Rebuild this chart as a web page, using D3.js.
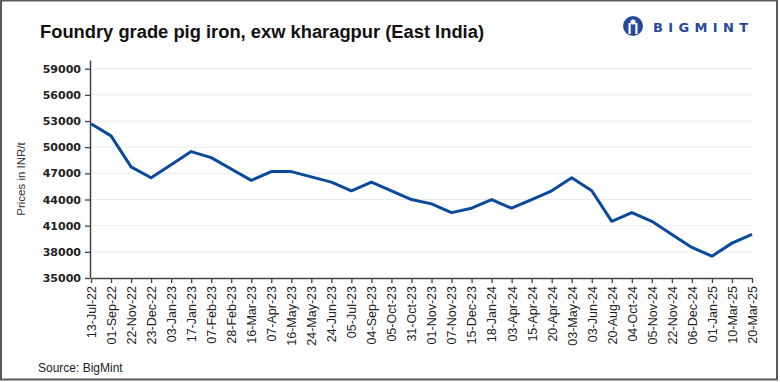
<!DOCTYPE html>
<html>
<head>
<meta charset="utf-8">
<script src="https://cdn.jsdelivr.net/npm/d3@7"></script>
<style>
  body { margin: 0; background: #fff; }
  svg { display: block; }
</style>
</head>
<body>
<svg id="chart" width="780" height="382"></svg>
<script>
// data
var dates = ["13-Jul-22","01-Sep-22","22-Nov-22","23-Dec-22","03-Jan-23","17-Jan-23","07-Feb-23","28-Feb-23",
  "16-Mar-23","07-Apr-23","16-May-23","24-May-23","24-Jun-23","05-Jul-23","04-Sep-23","05-Oct-23",
  "31-Oct-23","01-Nov-23","07-Nov-23","15-Dec-23","18-Jan-24","03-Apr-24","15-Apr-24","20-Apr-24",
  "03-May-24","03-Jun-24","20-Aug-24","04-Oct-24","05-Nov-24","22-Nov-24","06-Dec-24","01-Jan-25",
  "10-Mar-25","20-Mar-25"]
var prices = [52700,51300,47750,46500,48000,49500,48800,47500,
  46200,47200,47200,46600,46000,45000,46000,45000,
  44000,43500,42500,43000,44000,43000,44000,45000,
  46500,45000,41500,42500,41500,40000,38500,37500,
  39000,40000]
var yTicks = [35000,38000,41000,44000,47000,50000,53000,56000,59000]

var svg = d3.select("#chart")

// outer frame
svg.append("rect")
  .attr("x", 1).attr("y", 0.5)
  .attr("width", 776).attr("height", 379)
  .attr("fill", "none").attr("stroke", "#5a5a5a").attr("stroke-width", 2)

// title
svg.append("text")
  .attr("x", 40).attr("y", 38)
  .attr("font-family", "Liberation Sans, Arial, sans-serif")
  .attr("font-weight", "bold")
  .attr("font-size", "17.5px")
  .attr("fill", "#111")
  .attr("textLength", 444)
  .attr("lengthAdjust", "spacingAndGlyphs")
  .text("Foundry grade pig iron, exw kharagpur (East India)")

// logo
var logo = svg.append("g").attr("transform", "translate(633,26)")
logo.append("circle").attr("r", 10).attr("fill", "#27499b")
logo.append("rect").attr("x", -4.5).attr("y", -3).attr("width", 2.2).attr("height", 11).attr("fill", "#fff")
logo.append("rect").attr("x", 2.3).attr("y", -3).attr("width", 2.2).attr("height", 11).attr("fill", "#fff")
logo.append("circle").attr("cx", 0).attr("cy", -4).attr("r", 2.6).attr("fill", "#fff")
svg.append("text")
  .attr("x", 653).attr("y", 32)
  .attr("font-family", "DejaVu Sans, sans-serif")
  .attr("font-weight", "bold")
  .attr("font-size", "13px")
  .attr("fill", "#27499b")
  .attr("textLength", 95)
  .attr("lengthAdjust", "spacing")
  .text("BIGMINT")

// scales
var x = d3.scalePoint().domain(dates).range([91, 752]).padding(0)
var y = d3.scaleLinear().domain([35000, 60000]).range([278, 60])

// grid
svg.append("g")
  .selectAll("line")
  .data(yTicks.slice(1))
  .enter()
  .append("line")
  .attr("x1", 90).attr("x2", 752)
  .attr("y1", d => y(d)).attr("y2", d => y(d))
  .attr("stroke", "#ebebeb").attr("stroke-width", 1)

// y axis
var yAxis = svg.append("g")
  .attr("transform", "translate(90,0)")
  .call(d3.axisLeft(y).tickValues(yTicks).tickSize(5).tickSizeOuter(0).tickPadding(4).tickFormat(d3.format("d")))
yAxis.select(".domain").attr("stroke", "#444").attr("stroke-width", 1.5)
yAxis.selectAll(".tick line").attr("stroke", "#444").attr("stroke-width", 1.3)
yAxis.selectAll("text")
  .attr("font-family", "DejaVu Sans, sans-serif")
  .attr("font-weight", "bold")
  .attr("font-size", "11px")
  .attr("fill", "#222")

// x axis
var xAxis = svg.append("g")
  .attr("transform", "translate(0,278)")
  .call(d3.axisBottom(x).tickSize(5).tickSizeOuter(0))
xAxis.select(".domain").attr("stroke", "#444").attr("stroke-width", 1.5)
xAxis.selectAll(".tick line").attr("stroke", "#444").attr("stroke-width", 1.3)
xAxis.selectAll("text")
  .attr("transform", "rotate(-90)")
  .attr("x", -8)
  .attr("y", 0)
  .attr("dy", "0.35em")
  .style("text-anchor", "end")
  .attr("font-family", "Liberation Sans, Arial, sans-serif")
  .attr("font-size", "12.5px")
  .attr("fill", "#222")

// y axis title
svg.append("text")
  .attr("transform", "translate(25,179) rotate(-90)")
  .attr("text-anchor", "middle")
  .attr("font-family", "Liberation Sans, Arial, sans-serif")
  .attr("font-size", "11.5px")
  .attr("fill", "#333")
  .text("Prices in INR/t")

// price line
var line = d3.line()
  .x((d, i) => x(dates[i]))
  .y(d => y(d))

svg.append("path")
  .datum(prices)
  .attr("d", line)
  .attr("fill", "none")
  .attr("stroke", "#0b4a9b")
  .attr("stroke-width", 3)
  .attr("stroke-linejoin", "round")

// source
svg.append("text")
  .attr("x", 38).attr("y", 372)
  .attr("font-family", "Liberation Sans, Arial, sans-serif")
  .attr("font-size", "12px")
  .attr("fill", "#222")
  .text("Source: BigMint")
</script>
</body>
</html>
